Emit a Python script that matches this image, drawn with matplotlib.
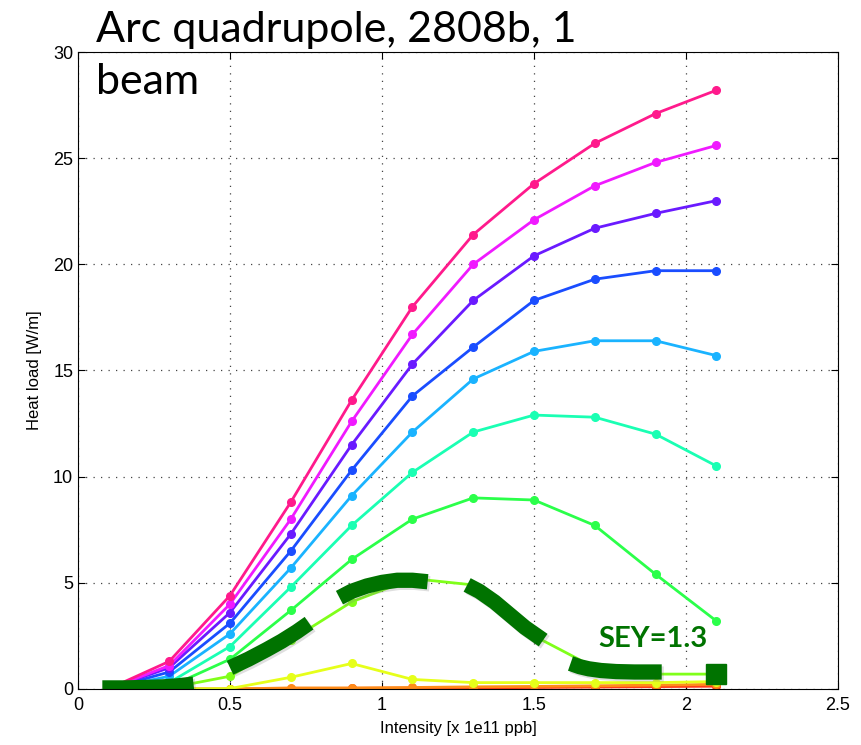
import matplotlib
matplotlib.use('Agg')
import matplotlib.pyplot as plt
import matplotlib.patheffects as pe

# Intensity points [x 1e11 ppb]
intensity = [0.1, 0.3, 0.5, 0.7, 0.9, 1.1, 1.3, 1.5, 1.7, 1.9, 2.1]

# Heat load curves [W/m], from the highest to the lowest SEY
hl_pink = [0.0, 1.3, 4.4, 8.8, 13.6, 18.0, 21.4, 23.8, 25.7, 27.1, 28.2]
hl_magenta = [0.0, 1.1, 4.0, 8.0, 12.6, 16.7, 20.0, 22.1, 23.7, 24.8, 25.6]
hl_purple = [0.0, 1.0, 3.6, 7.3, 11.5, 15.3, 18.3, 20.4, 21.7, 22.4, 23.0]
hl_blue = [0.0, 0.8, 3.1, 6.5, 10.3, 13.8, 16.1, 18.3, 19.3, 19.7, 19.7]
hl_lightblue = [0.0, 0.6, 2.6, 5.7, 9.1, 12.1, 14.6, 15.9, 16.4, 16.4, 15.7]
hl_aqua = [0.0, 0.3, 2.0, 4.8, 7.7, 10.2, 12.1, 12.9, 12.8, 12.0, 10.5]
hl_green = [0.0, 0.1, 1.4, 3.7, 6.1, 8.0, 9.0, 8.9, 7.7, 5.4, 3.2]
hl_lightgreen = [0.0, 0.05, 0.6, 2.3, 4.1, 5.2, 4.9, 2.5, 1.0, 0.7, 0.7]
hl_yellow = [0.0, 0.0, 0.02, 0.55, 1.2, 0.45, 0.3, 0.3, 0.3, 0.3, 0.35]
hl_orange = [0.0, 0.0, 0.0, 0.05, 0.05, 0.07, 0.1, 0.12, 0.15, 0.18, 0.22]
hl_red = [0.0, 0.0, 0.0, 0.02, 0.03, 0.04, 0.05, 0.07, 0.09, 0.11, 0.13]

curves = [hl_red, hl_orange, hl_yellow, hl_lightgreen, hl_green, hl_aqua,
          hl_lightblue, hl_blue, hl_purple, hl_magenta, hl_pink]
colors = ['#ff3d1a', '#ff8c1a', '#e6ff1a', '#80ff1a', '#2bff4a', '#1affb3',
          '#1ab3ff', '#1a4dff', '#6a1aff', '#f01aff', '#ff1a8c']

# hand-drawn SEY=1.3 highlight, pieces of the thick dashed stroke
hl13_x = [[0.08, 0.15, 0.22, 0.28, 0.33, 0.38],
          [0.5, 0.56, 0.62, 0.67, 0.72, 0.76],
          [0.86, 0.9, 0.95, 1.0, 1.05, 1.1, 1.15],
          [1.28, 1.32, 1.37, 1.42, 1.47, 1.53],
          [1.62, 1.65, 1.68, 1.72, 1.77, 1.83, 1.92]]
hl13_y = [[0.05, 0.05, 0.07, 0.1, 0.15, 0.23],
          [1.0, 1.4, 1.85, 2.25, 2.7, 3.1],
          [4.3, 4.6, 4.85, 5.02, 5.12, 5.12, 5.05],
          [4.9, 4.6, 4.1, 3.5, 2.9, 2.3],
          [1.2, 1.05, 0.95, 0.87, 0.82, 0.8, 0.8]]
sey_label = 'SEY=1.3'

fig = plt.figure(figsize=(8.62, 7.45), dpi=100)
ax = fig.add_axes([0.0905, 0.0752, 0.8817, 0.855])

for y, c in zip(curves, colors):
    ax.plot(intensity, y, '-', marker='o', color=c, lw=2.0, ms=5.5)

shadow = [pe.SimpleLineShadow(offset=(1.5, -1.5), alpha=0.25, shadow_color='gray'),
          pe.Normal()]
for xs, ys in zip(hl13_x, hl13_y):
    ax.plot(xs, ys, '-', color='#007300', lw=11, solid_capstyle='butt',
            solid_joinstyle='round', path_effects=shadow)
ax.plot([intensity[-1]], [hl_lightgreen[-1]], 's', color='#007300', ms=14)

ax.text(1.89, 2.35, sey_label, color='#007300', fontsize=21, fontweight='bold',
        family='Lato', ha='center', va='center')

ax.set_xlim(0, 2.5)
ax.set_ylim(0, 30)
ax.set_xticks([0, 0.5, 1, 1.5, 2, 2.5])
ax.set_xticklabels(['0', '0.5', '1', '1.5', '2', '2.5'])
ax.set_yticks([0, 5, 10, 15, 20, 25, 30])
ax.tick_params(direction='in', top=True, right=True, labelsize=13, length=5)
ax.tick_params(axis='x', pad=6)
for lab in ax.get_xticklabels() + ax.get_yticklabels():
    lab.set_family('Liberation Sans')
ax.grid(True, linestyle=(0, (1, 5)), color='#444444', lw=0.9)
ax.set_xlabel('Intensity [x 1e11 ppb]', family='Liberation Sans', fontsize=12, labelpad=5)
ax.set_ylabel('Heat load [W/m]', family='Liberation Sans', fontsize=12, labelpad=8)

fig.text(0.111, 0.944, 'Arc quadrupole, 2808b, 1', fontsize=31, family='Lato', va='baseline')
fig.text(0.111, 0.874, 'beam', fontsize=31, family='Lato', va='baseline')

plt.savefig('out.png', dpi=100)
